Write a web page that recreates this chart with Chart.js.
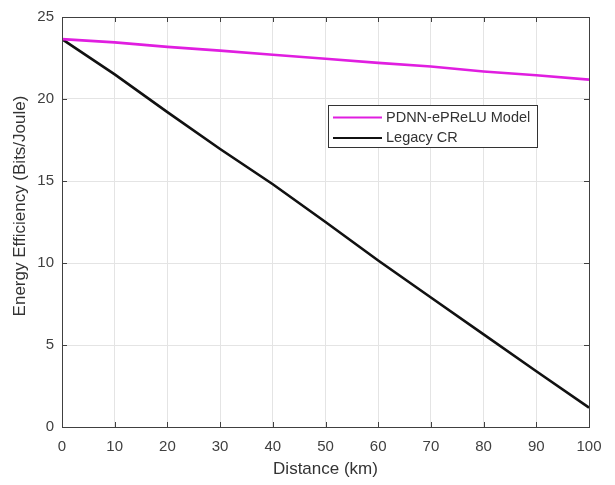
<!DOCTYPE html>
<html>
<head>
<meta charset="utf-8">
<script src="https://cdn.jsdelivr.net/npm/chart.js@4.4.1/dist/chart.umd.min.js"></script>
<style>
    html, body { margin: 0; padding: 0; background: #fff; }
    #ee-chart { display: block; }
</style>
</head>
<body>
<canvas id="ee-chart" width="615" height="485"></canvas>
<script>
// distance (km) and energy efficiency (bits/joule) per model
const distanceKm = [0, 10, 20, 30, 40, 50, 60, 70, 80, 90, 100];
const pdnnEfficiency = [23.65, 23.45, 23.18, 22.95, 22.70, 22.45, 22.20, 21.98, 21.68, 21.45, 21.18];
const legacyEfficiency = [23.65, 21.50, 19.20, 16.95, 14.80, 12.50, 10.15, 7.90, 5.65, 3.40, 1.18];
const seriesNames = ['PDNN-ePReLU Model', 'Legacy CR'];
const seriesColors = ['#e01ee0', '#111111'];

const FONT = '"Liberation Sans", Arial, sans-serif';
const AXIS_COLOR = '#404040';

function toPoints(values) {
    return distanceKm.map((d, i) => ({ x: d, y: values[i] }));
}

// box, inward ticks, y title and the legend inside the axes
const axesDecor = {
    id: 'axesDecor',
    afterDraw(chart) {
        const { ctx, chartArea: a, scales: { x, y } } = chart;
        const tick = 5;
        ctx.save();
        ctx.strokeStyle = AXIS_COLOR;
        ctx.lineWidth = 1;
        ctx.beginPath();
        x.ticks.forEach(t => {
            const px = Math.round(x.getPixelForValue(t.value)) + 0.5;
            ctx.moveTo(px, a.bottom); ctx.lineTo(px, a.bottom - tick);
            ctx.moveTo(px, a.top); ctx.lineTo(px, a.top + tick);
        });
        y.ticks.forEach(t => {
            const py = Math.round(y.getPixelForValue(t.value)) + 0.5;
            ctx.moveTo(a.left, py); ctx.lineTo(a.left + tick, py);
            ctx.moveTo(a.right, py); ctx.lineTo(a.right - tick, py);
        });
        ctx.stroke();
        ctx.strokeRect(Math.round(a.left) + 0.5, Math.round(a.top) + 0.5,
            Math.round(a.right - a.left), Math.round(a.bottom - a.top));

        // y axis title
        ctx.fillStyle = '#333';
        ctx.font = '17px ' + FONT;
        ctx.textAlign = 'center';
        ctx.textBaseline = 'middle';
        ctx.translate(20, 206);
        ctx.rotate(-Math.PI / 2);
        ctx.fillText('Energy Efficiency (Bits/Joule)', 0, 0);
        ctx.setTransform(1, 0, 0, 1, 0, 0);

        // legend
        const bx = 328.5, by = 105.5, bw = 209, bh = 42;
        ctx.fillStyle = '#fff';
        ctx.fillRect(bx, by, bw, bh);
        ctx.strokeStyle = '#333';
        ctx.strokeRect(bx, by, bw, bh);
        ctx.font = '14.5px ' + FONT;
        ctx.textAlign = 'left';
        seriesNames.forEach((name, i) => {
            const ly = 117.5 + i * 20.5;
            ctx.strokeStyle = seriesColors[i];
            ctx.lineWidth = 2.2;
            ctx.beginPath();
            ctx.moveTo(333, ly); ctx.lineTo(382, ly);
            ctx.stroke();
            ctx.fillStyle = '#333';
            ctx.fillText(name, 386, ly);
        });
        ctx.restore();
    }
};

new Chart(document.getElementById('ee-chart'), {
    type: 'line',
    data: {
        datasets: [
            { label: seriesNames[0], data: toPoints(pdnnEfficiency), borderColor: seriesColors[0], borderWidth: 2.6 },
            { label: seriesNames[1], data: toPoints(legacyEfficiency), borderColor: seriesColors[1], borderWidth: 2.6 }
        ]
    },
    options: {
        responsive: false,
        devicePixelRatio: 1,
        animation: false,
        layout: { padding: { left: 0, right: 26, top: 10, bottom: 0 } },
        elements: { point: { radius: 0 }, line: { tension: 0 } },
        plugins: { legend: { display: false }, tooltip: { enabled: false } },
        scales: {
            x: {
                type: 'linear',
                min: 0,
                max: 100,
                grid: { color: '#e4e4e4', drawTicks: false },
                border: { display: false },
                ticks: { stepSize: 10, padding: 11, color: AXIS_COLOR, font: { family: FONT, size: 15 } },
                title: {
                    display: true,
                    text: 'Distance (km)',
                    color: '#333',
                    font: { family: FONT, size: 17 },
                    padding: { top: 0, bottom: 5 }
                },
                afterFit: scale => { scale.height = 58; }
            },
            y: {
                min: 0,
                max: 25,
                grid: { color: '#e4e4e4', drawTicks: false },
                border: { display: false },
                ticks: { stepSize: 5, padding: 8, color: AXIS_COLOR, font: { family: FONT, size: 15 } },
                afterFit: scale => { scale.width = 62; }
            }
        }
    },
    plugins: [axesDecor]
});
</script>
</body>
</html>
